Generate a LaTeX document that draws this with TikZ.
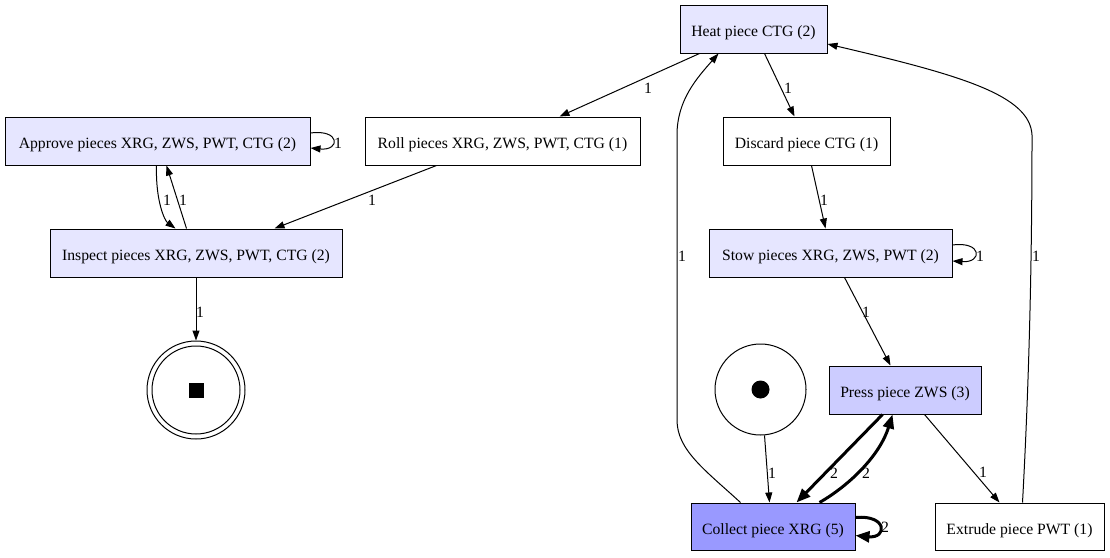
\documentclass[tikz,border=0pt]{standalone}
\usepackage{fontspec}
\setmainfont{Liberation Serif}
\usetikzlibrary{arrows.meta}
\definecolor{lav}{RGB}{230,230,255}
\definecolor{lavmid}{RGB}{204,204,255}
\definecolor{lavdark}{RGB}{153,153,255}
\begin{document}
\begin{tikzpicture}[x=1pt,y=-1pt,
  font=\fontsize{15.7}{18}\selectfont,
  trans/.style={draw=black, line width=1pt, rectangle, inner sep=0pt, minimum height=48, anchor=center, text height=15pt, text depth=0pt},
  lbl/.style={inner sep=0pt, anchor=center},
  arr/.style={line width=1pt, -{Triangle[length=10pt,width=7pt]}},
  tarr/.style={line width=3pt, -{Triangle[length=14pt,width=11pt]}}]
\useasboundingbox (0,0) rectangle (1110,557);
% transitions
\node[trans, fill=lav, minimum width=147] (heat) at (753.5,29) {Heat piece CTG (2)};
\node[trans, fill=lav, minimum width=305] (approve) at (157.5,141) {Approve pieces XRG, ZWS, PWT, CTG (2)};
\node[trans, fill=white, minimum width=275] (roll) at (502.5,141) {Roll pieces XRG, ZWS, PWT, CTG (1)};
\node[trans, fill=white, minimum width=167] (discard) at (806.5,141) {Discard piece CTG (1)};
\node[trans, fill=lav, minimum width=292] (inspect) at (196,253) {Inspect pieces XRG, ZWS, PWT, CTG (2)};
\node[trans, fill=lav, minimum width=243] (stow) at (830.5,253) {Stow pieces XRG, ZWS, PWT (2)};
\node[trans, fill=lavmid, minimum width=152] (press) at (905,390) {Press piece ZWS (3)};
\node[trans, fill=lavdark, minimum width=164, minimum height=47] (collect) at (773,526.5) {Collect piece XRG (5)};
\node[trans, fill=white, minimum width=169, minimum height=47] (extrude) at (1019.5,526.5) {Extrude piece PWT (1)};
% places
\node[circle, draw, line width=1pt, minimum size=91, inner sep=0pt] (start) at (760.5,389.5) {};
\fill (start.center) circle (9);
\node[circle, draw, line width=1pt, minimum size=98, inner sep=0pt] (end) at (196,390) {};
\draw[line width=1pt] (end.center) circle (44);
\fill ([shift={(-7.5,-7.5)}]end.center) rectangle ([shift={(7.5,7.5)}]end.center);
% arcs
\draw[arr] ([xshift=20]heat.south west) -- ([xshift=195]roll.north west);
\node[lbl] (l1) at (648,88) {1};
\draw[arr] ([xshift=85]heat.south west) -- ([xshift=72]discard.north west);
\node[lbl] (l2) at (788,88) {1};
\draw[arr] ([xshift=72]roll.south west) -- ([xshift=225]inspect.north west);
\node[lbl] (l3) at (372,200) {1};
\draw[arr] ([yshift=8]approve.east) .. controls ([xshift=30,yshift=12]approve.east) and ([xshift=30,yshift=-10]approve.east) .. ([yshift=-7]approve.east);
\node[lbl] (l4) at (338,143) {1};
\draw[arr] ([xshift=152]approve.south west) .. controls ([xshift=151,yshift=-35]approve.south west) and ([xshift=160,yshift=-55]approve.south west) .. ([xshift=126]inspect.north west);
\node[lbl] (l5) at (167,200) {1};
\draw[arr] ([xshift=137]inspect.north west) -- ([xshift=162]approve.south west);
\node[lbl] (l6) at (183,200) {1};
\draw[arr] (inspect.south) -- (end.north);
\node[lbl] (l7) at (200,312) {1};
\draw[arr] ([xshift=89]discard.south west) -- ([xshift=117]stow.north west);
\node[lbl] (l8) at (824,200) {1};
\draw[arr] ([yshift=8]stow.east) .. controls ([xshift=30,yshift=12]stow.east) and ([xshift=30,yshift=-10]stow.east) .. ([yshift=-8]stow.east);
\node[lbl] (l9) at (980,256) {1};
\draw[arr] ([xshift=136]stow.south west) -- ([xshift=62]press.north west);
\node[lbl] (l10) at (866,312) {1};
\draw[arr] ([xshift=50]collect.north west) .. controls (705,470) and (677,450) .. (677,420) -- (677,135) .. controls (677,100) and (697,78) .. ([xshift=39]heat.south west);
\node[lbl] (l11) at (682,256) {1};
\draw[arr] ([xshift=88]extrude.north west) .. controls (1027,420) and (1032,300) .. (1032,135) .. controls (1030,95) and (960,75) .. ([yshift=-15]heat.east);
\node[lbl] (l12) at (1036,256) {1};
\draw[arr] (start.-85) -- ([xshift=79]collect.north west);
\node[lbl] (l13) at (772,473) {1};
\draw[tarr] ([xshift=54]press.south west) -- ([xshift=106]collect.north west);
\node[lbl] (l14) at (834,473) {2};
\draw[tarr] ([xshift=129]collect.north west) .. controls (850,485) and (880,455) .. ([xshift=64]press.south west);
\node[lbl] (l15) at (866,473) {2};
\draw[arr] ([xshift=96]press.south west) -- ([xshift=65]extrude.north west);
\node[lbl] (l16) at (983,472) {1};
\draw[tarr] ([yshift=9]collect.east) .. controls ([xshift=32,yshift=12]collect.east) and ([xshift=32,yshift=-12]collect.east) .. ([yshift=-9]collect.east);
\node[lbl] (l17) at (885,527) {2};
\end{tikzpicture}
\end{document}
